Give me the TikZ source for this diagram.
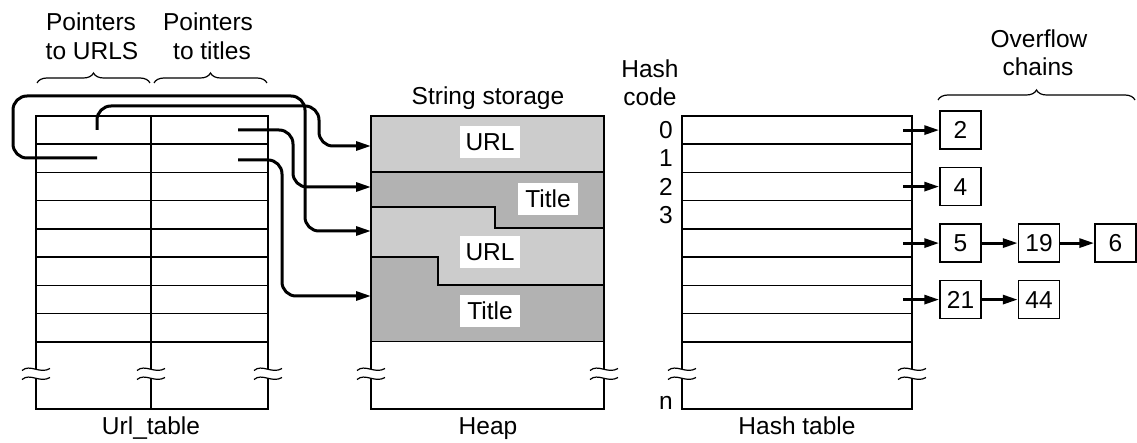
\documentclass[tikz,border=0pt]{standalone}
\usepackage{fontspec}
\setmainfont{Liberation Sans}
\usetikzlibrary{arrows.meta,decorations.pathreplacing}
\definecolor{urlgray}{gray}{0.80}
\definecolor{titlegray}{gray}{0.70}
\tikzset{
  brkmark/.pic={
    \draw[line width=1.2pt] (-14,-3) .. controls (-6,-10) and (4,1) .. (14,-5);
    \draw[line width=1.2pt] (-14,6) .. controls (-6,-1) and (4,10) .. (14,4);
  }
}
\begin{document}
\begin{tikzpicture}[x=1pt,y=-1pt,
  tbl/.style={line width=1.5pt},
  ptr/.style={line width=3pt, rounded corners=14pt, -{Triangle[length=15pt,width=9pt]}},
  arr/.style={line width=3pt, -{Triangle[length=15pt,width=9pt]}},
  lbl/.style={font=\fontsize{24.5}{28}\selectfont, inner sep=0pt},
  strlab/.style={lbl, fill=white, minimum width=60pt, minimum height=32pt},
  chain/.style={draw, line width=1.5pt, lbl, minimum width=41pt, minimum height=38pt},
  brc/.style={decorate, decoration={brace, amplitude=10pt}, line width=1.2pt}
]
\useasboundingbox (0,0) rectangle (1137,443);

% ---------- Url_table ----------
\foreach \k in {1,...,8} \draw[tbl] (36,{116+28.25*\k}) -- (268,{116+28.25*\k});
\draw[tbl] (36,369.1) -- (36,116) -- (268,116) -- (268,369.1);
\draw[tbl] (36,378.1) -- (36,409) -- (268,409) -- (268,378.1);
\draw[tbl] (151,116) -- (151,369.1);
\draw[tbl] (151,378.1) -- (151,409);
\foreach \x in {36,151,268} \pic at (\x,373.5) {brkmark};

% ---------- Heap ----------
\fill[urlgray] (371,116) rectangle (604,172);
\fill[titlegray] (371,172) -- (604,172) -- (604,228) -- (495,228) -- (495,207) -- (371,207) -- cycle;
\fill[urlgray] (371,207) -- (495,207) -- (495,228) -- (604,228) -- (604,285) -- (438,285) -- (438,257) -- (371,257) -- cycle;
\fill[titlegray] (371,257) -- (438,257) -- (438,285) -- (604,285) -- (604,341.7) -- (371,341.7) -- cycle;
\draw[tbl] (371,172) -- (604,172);
\draw[tbl] (371,207) -- (495,207) -- (495,228) -- (604,228);
\draw[tbl] (371,257) -- (438,257) -- (438,285) -- (604,285);
\draw[tbl] (371,341.7) -- (604,341.7);
\draw[tbl] (371,369.1) -- (371,116) -- (604,116) -- (604,369.1);
\draw[tbl] (371,378.1) -- (371,409) -- (604,409) -- (604,378.1);
\foreach \x in {371,604} \pic at (\x,373.5) {brkmark};

\node[strlab] (url1) at (490,142) {URL};
\node[strlab] (title1) at (548,199) {Title};
\node[strlab] (url2) at (490,252.5) {URL};
\node[strlab] (title2) at (490,311) {Title};

% ---------- Hash table ----------
\foreach \k in {1,...,8} \draw[tbl] (682,{116+28.25*\k}) -- (912,{116+28.25*\k});
\draw[tbl] (682,369.1) -- (682,116) -- (912,116) -- (912,369.1);
\draw[tbl] (682,378.1) -- (682,409) -- (912,409) -- (912,378.1);
\foreach \x in {682,912} \pic at (\x,373.5) {brkmark};

% ---------- pointers ----------
\coordinate (p00) at (97,130);
\coordinate (p01) at (97,158);
\coordinate (p10) at (238,130);
\coordinate (p11) at (238,160);
\coordinate (e1) at (371,146);
\coordinate (e2) at (371,187);
\coordinate (e3) at (371,231);
\coordinate (e4) at (371,296);

\draw[ptr] (p00) -- (97,106) -- (319,106) -- (319,146) -- (e1);
\draw[ptr] (p01) -- (13,158) -- (13,96) -- (305,96) -- (305,231) -- (e3);
\draw[ptr] (p10) -- (293,130) -- (293,187) -- (e2);
\draw[ptr] (p11) -- (282,160) -- (282,296) -- (e4);

% ---------- overflow chains ----------
\node[chain] (c2) at (960.5,130.1) {2};
\node[chain] (c4) at (960.5,186.6) {4};
\node[chain] (c5) at (960.5,243.1) {5};
\node[chain] (c19) at (1039,243.1) {19};
\node[chain] (c6) at (1115.5,243.1) {6};
\node[chain] (c21) at (960.5,299.6) {21};
\node[chain] (c44) at (1039,299.6) {44};

\coordinate (h0) at (903,130.1);
\coordinate (h2) at (903,186.6);
\coordinate (h4) at (903,243.1);
\coordinate (h6) at (903,299.6);
\draw[arr] (h0) -- (c2);
\draw[arr] (h2) -- (c4);
\draw[arr] (h4) -- (c5);
\draw[arr] (c5) -- (c19);
\draw[arr] (c19) -- (c6);
\draw[arr] (h6) -- (c21);
\draw[arr] (c21) -- (c44);

% ---------- labels ----------
\node[lbl, anchor=base] (ptu1) at (91,30.5) {Pointers};
\node[lbl, anchor=base] (ptu2) at (92,60) {to URLS};
\node[lbl, anchor=base] (ptt1) at (208,30.5) {Pointers};
\node[lbl, anchor=base] (ptt2) at (212,60) {to titles};
\node[lbl, anchor=base] (ss) at (488,105) {String storage};
\node[lbl, anchor=base] (hc1) at (650,78) {Hash};
\node[lbl, anchor=base] (hc2) at (650,106) {code};
\node[lbl, anchor=base] (of1) at (1039,48) {Overflow};
\node[lbl, anchor=base] (of2) at (1038,76) {chains};

\node[lbl, anchor=east] (n0) at (673,130.1) {0};
\node[lbl, anchor=east] (n1) at (673,158.4) {1};
\node[lbl, anchor=east] (n2) at (673,186.6) {2};
\node[lbl, anchor=east] (n3) at (673,214.9) {3};
\node[lbl, anchor=base east] (nn) at (673,409) {n};

\node[lbl, anchor=base] (lurl) at (151,434) {Url\_table};
\node[lbl, anchor=base] (lheap) at (488,434) {Heap};
\node[lbl, anchor=base] (lhash) at (797,434) {Hash table};

% ---------- braces ----------
\draw[brc] (37,83) -- (150,83);
\draw[brc] (154,83) -- (267,83);
\draw[brc] (938,100) -- (1135,100);
\end{tikzpicture}
\end{document}
